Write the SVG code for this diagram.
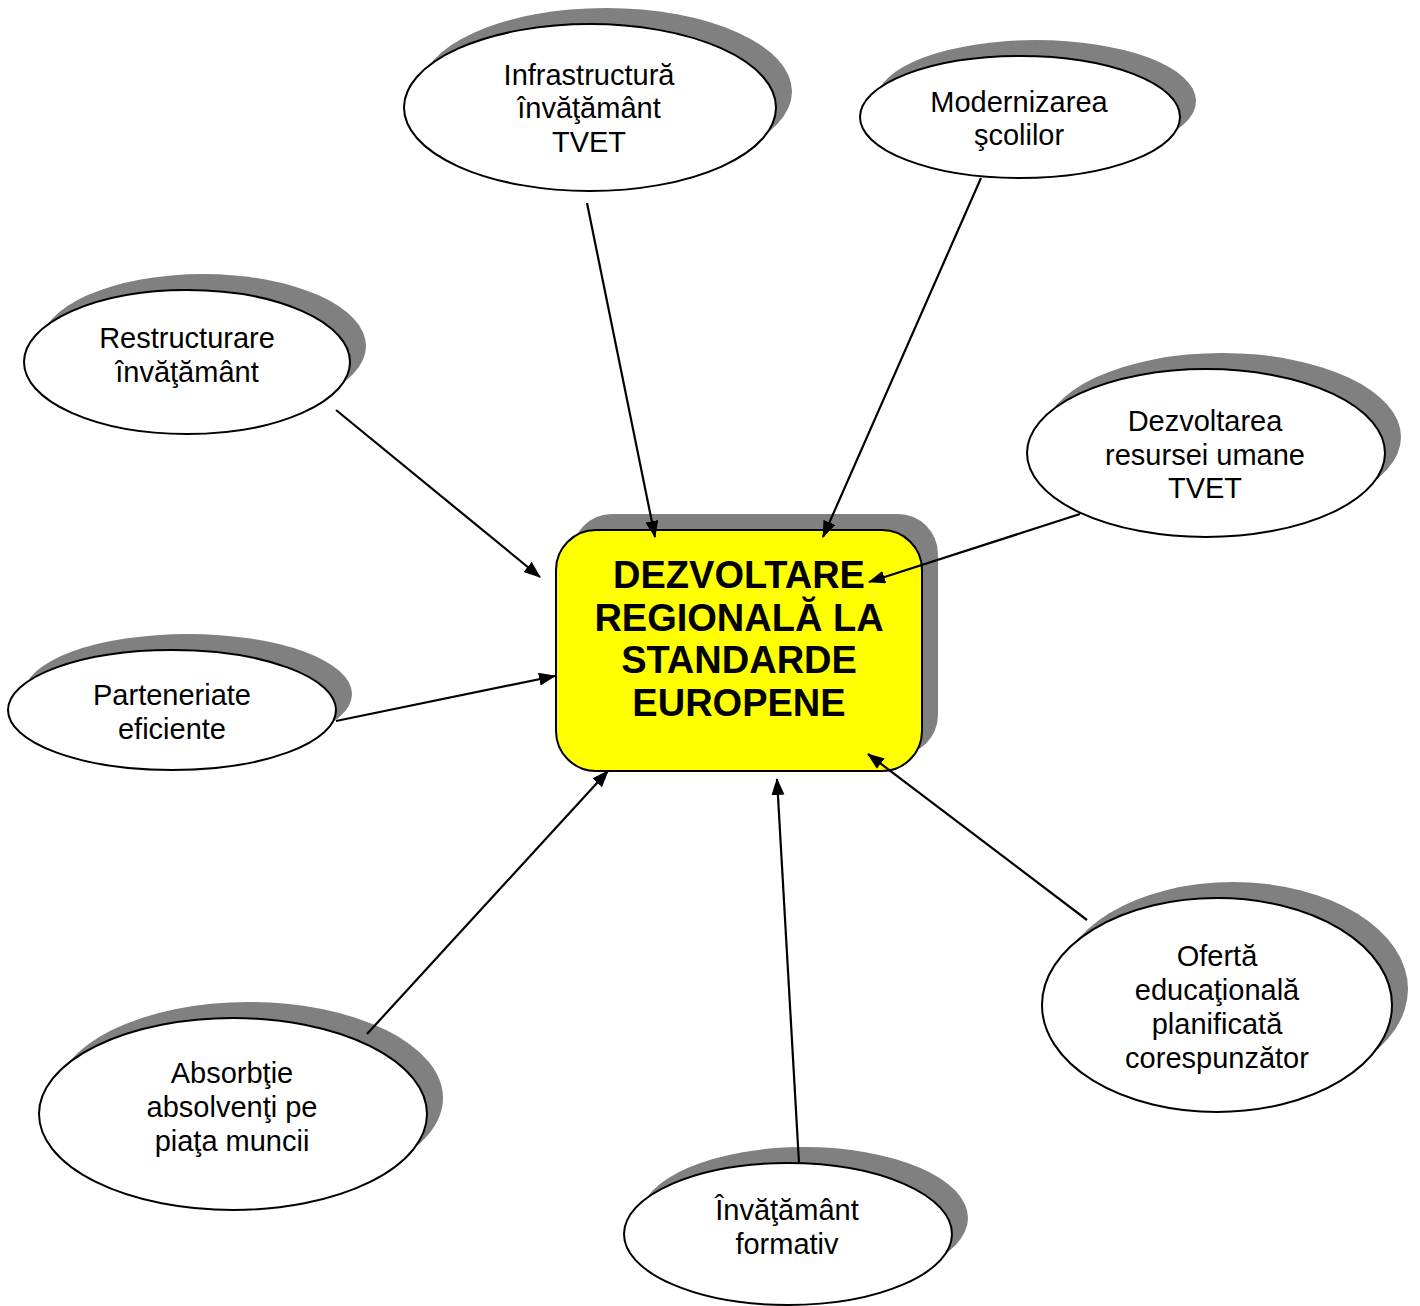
<svg xmlns="http://www.w3.org/2000/svg" width="1420" height="1306" viewBox="0 0 1420 1306">
<style>
.sh{fill:#808080;stroke:none}
.el{fill:#fff;stroke:#000;stroke-width:2}
.t{font-family:"Liberation Sans",Arial,sans-serif;font-size:29px;fill:#000;text-anchor:middle}
.tb{font-family:"Liberation Sans",Arial,sans-serif;font-size:38px;font-weight:bold;fill:#000;text-anchor:middle}
.c{stroke:#000;stroke-width:2.2;fill:none;marker-end:url(#ah)}
</style>
<defs>
<marker id="ah" markerUnits="userSpaceOnUse" markerWidth="18" markerHeight="14" refX="16" refY="6.5" orient="auto">
<path d="M0,0 L17,6.5 L0,13 Z" fill="#000"/>
</marker>
</defs>
<rect width="1420" height="1306" fill="#fff"/>
<g id="n-infra">
<ellipse class="sh" cx="606" cy="91.5" rx="186" ry="83.5"/>
<ellipse class="el" cx="590" cy="107.5" rx="186" ry="83.5"/>
<text class="t" x="589" y="85">Infrastructură</text>
<text class="t" x="589" y="118">învăţământ</text>
<text class="t" x="589" y="152">TVET</text>
</g>
<g id="n-modern">
<ellipse class="sh" cx="1036" cy="101" rx="160" ry="61"/>
<ellipse class="el" cx="1020" cy="117" rx="160" ry="61"/>
<text class="t" x="1019" y="112">Modernizarea</text>
<text class="t" x="1019" y="145">şcolilor</text>
</g>
<g id="n-restr">
<ellipse class="sh" cx="203" cy="346" rx="163" ry="72"/>
<ellipse class="el" cx="187" cy="362" rx="163" ry="72"/>
<text class="t" x="187" y="348">Restructurare</text>
<text class="t" x="187" y="382">învăţământ</text>
</g>
<g id="n-dezv">
<ellipse class="sh" cx="1222" cy="437" rx="179" ry="84"/>
<ellipse class="el" cx="1206" cy="453" rx="179" ry="84"/>
<text class="t" x="1205" y="431">Dezvoltarea</text>
<text class="t" x="1205" y="465">resursei umane</text>
<text class="t" x="1205" y="498">TVET</text>
</g>
<g id="n-part">
<ellipse class="sh" cx="188" cy="694" rx="164" ry="60"/>
<ellipse class="el" cx="172" cy="710" rx="164" ry="60"/>
<text class="t" x="172" y="705">Parteneriate</text>
<text class="t" x="172" y="739">eficiente</text>
</g>
<g id="n-absorb">
<ellipse class="sh" cx="249" cy="1098" rx="194" ry="96"/>
<ellipse class="el" cx="233" cy="1114" rx="194" ry="96"/>
<text class="t" x="232" y="1083">Absorbţie</text>
<text class="t" x="232" y="1117">absolvenţi pe</text>
<text class="t" x="232" y="1151">piaţa muncii</text>
</g>
<g id="n-formativ">
<ellipse class="sh" cx="804" cy="1218" rx="164" ry="71"/>
<ellipse class="el" cx="788" cy="1234" rx="164" ry="71"/>
<text class="t" x="787" y="1220">Învăţământ</text>
<text class="t" x="787" y="1254">formativ</text>
</g>
<g id="n-oferta">
<ellipse class="sh" cx="1233" cy="989" rx="175" ry="107"/>
<ellipse class="el" cx="1217" cy="1005" rx="175" ry="107"/>
<text class="t" x="1217" y="966">Ofertă</text>
<text class="t" x="1217" y="1000">educaţională</text>
<text class="t" x="1217" y="1034">planificată</text>
<text class="t" x="1217" y="1068">corespunzător</text>
</g>
<g id="n-center">
<rect class="sh" x="572" y="514" width="366" height="241" rx="40" ry="40"/>
<rect x="556" y="530" width="366" height="241" rx="40" ry="40" fill="#ffff00" stroke="#000" stroke-width="2"/>
<text class="tb" x="739" y="588">DEZVOLTARE</text>
<text class="tb" x="739" y="631">REGIONALĂ LA</text>
<text class="tb" x="739" y="673">STANDARDE</text>
<text class="tb" x="739" y="716">EUROPENE</text>
</g>
<g id="connectors">
<line class="c" x1="587" y1="203" x2="655" y2="537"/>
<line class="c" x1="981" y1="178" x2="823" y2="537"/>
<line class="c" x1="336" y1="410" x2="540" y2="577"/>
<line class="c" x1="1080" y1="514" x2="869" y2="582"/>
<line class="c" x1="336" y1="721" x2="555" y2="676"/>
<line class="c" x1="367" y1="1034" x2="608" y2="771"/>
<line class="c" x1="799" y1="1163" x2="777" y2="779"/>
<line class="c" x1="1087" y1="920" x2="868" y2="754"/>
</g>
</svg>
